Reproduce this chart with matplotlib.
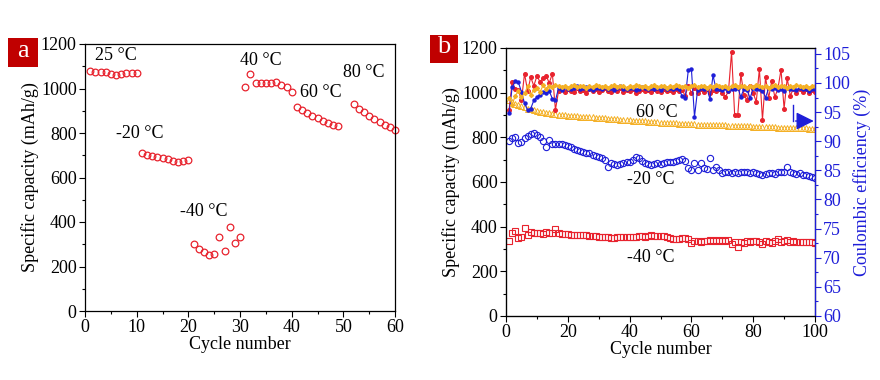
import numpy as np
import matplotlib
matplotlib.use('Agg')
import matplotlib.pyplot as plt
from matplotlib.ticker import MultipleLocator
from matplotlib.patches import Rectangle

plt.rcParams['font.family'] = ['Liberation Serif', 'DejaVu Serif']

# ---- panel a: rate test at different temperatures ----
cyc_25 = list(range(1, 11))
cap_25 = [1078, 1072, 1074, 1073, 1066, 1061, 1063, 1068, 1069, 1068]
cyc_m20 = list(range(11, 21))
cap_m20 = [711, 701, 698, 690, 686, 684, 676, 669, 676, 679]
cyc_m40 = list(range(21, 31))
cap_m40 = [301, 279, 265, 252, 256, 334, 271, 378, 307, 333]
cyc_40 = list(range(31, 41))
cap_40 = [1005, 1064, 1025, 1024, 1024, 1024, 1028, 1016, 1008, 986]
cyc_60 = list(range(41, 50))
cap_60 = [918, 902, 888, 876, 866, 856, 846, 836, 831]
cyc_80 = list(range(52, 61))
cap_80 = [930, 910, 895, 878, 864, 850, 838, 826, 813]

labels_a = ['25 \u00b0C', '-20 \u00b0C', '-40 \u00b0C', '40 \u00b0C', '60 \u00b0C', '80 \u00b0C']
label_pos_a = [(6, 1150), (10.5, 800), (23, 445), (34, 1124), (45.6, 980), (54, 1074)]

# ---- panel b: long cycling ----
cycles_b = list(range(1, 101))
cap_b_60 = [965, 958, 950, 944, 939, 934, 929, 925, 921, 918,
            915, 912, 910, 908, 906, 904, 902, 900, 899, 897,
            896, 895, 894, 893, 892, 891, 890, 889, 888, 887,
            886, 885, 883, 882, 881, 880, 879, 878, 877, 876,
            875, 874, 873, 872, 871, 870, 869, 868, 867, 866,
            865, 864, 863, 862, 862, 861, 860, 860, 859, 858,
            858, 857, 857, 856, 856, 855, 855, 854, 854, 853,
            853, 852, 852, 851, 851, 850, 850, 849, 849, 848,
            848, 847, 847, 846, 846, 845, 845, 844, 844, 843,
            843, 842, 842, 841, 841, 840, 840, 839, 839, 838]
cap_b_m20 = [785, 795, 800, 775, 780, 795, 806, 815, 821, 810,
             800, 785, 758, 788, 770, 772, 770, 768, 766, 760,
             755, 748, 743, 738, 736, 731, 728, 721, 718, 713,
             706, 699, 666, 684, 680, 676, 680, 684, 688, 691,
             700, 713, 706, 695, 684, 680, 676, 680, 684, 682,
             684, 688, 690, 691, 695, 698, 701, 694, 661, 654,
             684, 654, 684, 663, 660, 706, 654, 666, 655, 639,
             643, 646, 640, 644, 641, 645, 646, 643, 640, 644,
             642, 638, 631, 636, 640, 642, 638, 644, 646, 645,
             666, 645, 639, 636, 640, 631, 633, 628, 622, 617]
cap_b_m40 = [337, 370, 382, 348, 352, 393, 363, 375, 373, 370,
             373, 368, 375, 373, 370, 388, 370, 368, 366, 365,
             364, 363, 363, 362, 362, 361, 360, 358, 356, 355,
             354, 352, 352, 351, 351, 352, 352, 352, 352, 353,
             354, 355, 358, 356, 355, 360, 363, 360, 358, 358,
             356, 352, 348, 343, 345, 346, 348, 348, 345, 328,
             335, 337, 332, 338, 336, 340, 338, 340, 337, 342,
             336, 340, 322, 333, 308, 330, 325, 335, 330, 337,
             335, 332, 322, 337, 330, 325, 338, 343, 332, 335,
             340, 332, 335, 330, 333, 332, 330, 332, 330, 328]

ce_red = [95.4, 100.2, 99.0, 98.8, 97.0, 101.6, 98.6, 101.0, 99.5, 101.2,
          100.2, 100.8, 101.2, 100.0, 101.6, 95.4, 98.6, 98.9, 98.4, 99.0,
          98.7, 98.5, 99.1, 98.6, 98.8, 98.3, 99.0, 98.7, 98.9, 98.5,
          98.8, 99.2, 98.6, 98.4, 98.9, 98.7, 99.1, 98.5, 98.8, 98.6,
          98.9, 98.3, 98.7, 99.0, 98.6, 98.8, 98.4, 98.9, 98.7, 98.5,
          99.0, 98.6, 98.8, 98.4, 98.9, 98.6, 98.8, 97.8, 99.5, 98.3,
          99.2, 98.3, 98.9, 98.4, 99.0, 98.2, 98.8, 98.6, 99.0, 98.3,
          97.6, 98.6, 105.3, 94.5, 94.5, 101.5, 98.0, 97.0, 99.5, 98.2,
          96.8, 102.4, 93.7, 101.0, 97.4, 100.3, 97.6, 99.0, 102.3, 95.6,
          100.8, 97.8, 99.0, 98.2, 99.0, 98.4, 98.9, 98.3, 98.8, 98.4]
ce_blue = [94.8, 99.3, 100.3, 100.1, 98.5, 96.5, 95.3, 95.6, 97.0, 97.6,
           98.0, 98.4, 98.2, 98.6, 97.3, 97.0, 99.1, 98.8, 99.3, 99.0,
           98.9, 99.2, 99.4, 98.9, 99.1, 99.3, 99.0, 98.8, 99.2, 99.1,
           98.9, 99.3, 99.0, 99.2, 98.8, 99.1, 99.4, 99.0, 98.9, 99.2,
           99.1, 98.8, 99.0, 99.3, 99.1, 98.9, 99.2, 99.0, 99.1, 98.8,
           99.3, 99.0, 99.2, 98.9, 99.1, 99.0, 97.7, 97.4, 102.2, 102.4,
           94.2, 98.8, 99.1, 98.9, 99.2, 97.2, 101.3, 98.9, 99.0, 98.8,
           99.1, 98.7, 99.0, 98.9, 99.2, 97.6, 99.0, 98.8, 97.4, 99.1,
           98.9, 99.0, 98.7, 97.5, 99.1, 98.9, 99.2, 98.8, 99.0, 98.7,
           99.1, 98.9, 99.0, 98.8, 99.1, 98.9, 99.0, 98.7, 99.0, 98.9]
ce_orange = [97.5, 96.3, 97.8, 98.6, 97.6, 98.2, 99.4, 98.0, 98.8, 99.2,
             98.4, 99.6, 98.9, 99.5, 99.3, 99.6, 99.4, 99.3, 99.5, 99.2,
             99.4, 99.6, 99.3, 99.5, 99.4, 99.2, 99.5, 99.3, 99.6, 99.4,
             99.3, 99.5, 99.2, 99.4, 99.6, 99.3, 99.5, 99.4, 99.2, 99.5,
             99.3, 99.6, 99.4, 99.3, 99.5, 99.2, 99.4, 99.6, 99.3, 99.5,
             99.4, 99.2, 99.5, 99.3, 99.6, 99.4, 99.3, 99.5, 99.2, 99.4,
             99.6, 99.3, 99.5, 99.4, 99.2, 99.5, 99.3, 99.6, 99.4, 99.3,
             99.5, 99.2, 99.4, 99.6, 99.3, 99.5, 99.4, 99.2, 99.5, 99.3,
             99.6, 99.4, 99.3, 99.5, 99.2, 99.4, 99.6, 99.3, 99.5, 99.4,
             99.2, 99.5, 99.3, 99.6, 99.4, 99.3, 99.5, 99.2, 99.4, 99.5]

labels_b = ['60 \u00b0C', '-20 \u00b0C', '-40 \u00b0C']
label_pos_b = [(48.8, 913), (47, 609), (47, 264)]

RED = '#E8232E'
BLUE = '#1E1ED8'
ORANGE = '#F4B026'
FS = 13

fig = plt.figure(figsize=(8.8, 3.8), dpi=100)
ax1 = fig.add_axes([85/880, 69/380, 310/880, 267/380])
ax2 = fig.add_axes([506/880, 64/380, 309/880, 268/380])


def style_axis(ax):
    ax.tick_params(which='both', direction='out', labelsize=FS, top=False, right=False, pad=2)
    ax.tick_params(which='major', length=4, width=0.8)
    ax.tick_params(which='minor', length=2.5, width=0.8)
    for sp in ax.spines.values():
        sp.set_linewidth(0.9)


# panel a
for cx, cy in [(cyc_25, cap_25), (cyc_m20, cap_m20), (cyc_m40, cap_m40),
               (cyc_40, cap_40), (cyc_60, cap_60), (cyc_80, cap_80)]:
    ax1.plot(cx, cy, 'o', ms=4.8, mfc='none', mec=RED, mew=0.9, clip_on=False)
for txt, (x, y) in zip(labels_a, label_pos_a):
    ax1.text(x, y, txt, fontsize=FS, ha='center', va='center')
ax1.set_xlim(0, 60)
ax1.set_ylim(0, 1200)
ax1.xaxis.set_major_locator(MultipleLocator(10))
ax1.xaxis.set_minor_locator(MultipleLocator(5))
ax1.yaxis.set_major_locator(MultipleLocator(200))
ax1.yaxis.set_minor_locator(MultipleLocator(100))
style_axis(ax1)
ax1.set_xlabel('Cycle number', fontsize=FS, labelpad=0)
ax1.set_ylabel('Specific capacity (mAh/g)', fontsize=FS, labelpad=1)

# panel b
ax2.plot(cycles_b, cap_b_60, '^', ms=3.8, mfc='none', mec=ORANGE, mew=0.7)
ax2.plot(cycles_b, cap_b_m20, 'o', ms=4.5, mfc='none', mec=BLUE, mew=0.8)
ax2.plot(cycles_b, cap_b_m40, 's', ms=4.2, mfc='none', mec=RED, mew=0.8)
for txt, (x, y) in zip(labels_b, label_pos_b):
    ax2.text(x, y, txt, fontsize=FS, ha='center', va='center')
ax2.set_xlim(0, 100)
ax2.set_ylim(0, 1200)
ax2.xaxis.set_major_locator(MultipleLocator(20))
ax2.xaxis.set_minor_locator(MultipleLocator(10))
ax2.yaxis.set_major_locator(MultipleLocator(200))
ax2.yaxis.set_minor_locator(MultipleLocator(100))
style_axis(ax2)
ax2.set_xlabel('Cycle number', fontsize=FS, labelpad=0)
ax2.set_ylabel('Specific capacity (mAh/g)', fontsize=FS, labelpad=1)

ax3 = ax2.twinx()
ax3.plot(cycles_b, ce_red, '-o', color=RED, lw=0.8, ms=2.6)
ax3.plot(cycles_b, ce_blue, '-o', color=BLUE, lw=0.8, ms=2.2)
ax3.plot(cycles_b, ce_orange, '-D', color=ORANGE, lw=0.8, ms=2.0)
ax3.set_ylim(60, 106)
ax3.yaxis.set_major_locator(MultipleLocator(5))
ax3.yaxis.set_minor_locator(MultipleLocator(2.5))
ax3.tick_params(which='both', direction='out', colors=BLUE, labelsize=FS, pad=2)
ax3.tick_params(which='major', length=4, width=0.8)
ax3.tick_params(which='minor', length=2.5, width=0.8)
ax3.spines['right'].set_color(BLUE)
ax3.spines['right'].set_linewidth(0.9)
ax3.set_ylabel('Coulombic efficiency (%)', fontsize=FS, color=BLUE, labelpad=2)

# arrow pointing to the efficiency axis
ax2.plot([93, 93], [945, 873], color=BLUE, lw=1.0)
ax2.annotate('', xy=(100.5, 873), xytext=(92.8, 873),
             arrowprops=dict(arrowstyle='-|>,head_length=0.9,head_width=0.45', color=BLUE,
                             lw=1.0, mutation_scale=12),
             annotation_clip=False)

# panel tags
for (x0, y0, w, h), tag in [((8, 38, 30, 29), 'a'), ((430, 35, 28, 28), 'b')]:
    fig.patches.append(Rectangle((x0/880, 1 - (y0 + h)/380), w/880, h/380,
                                 transform=fig.transFigure, fc='#C00000', ec='none'))
    fig.text((x0 + w/2)/880, 1 - (y0 + h/2)/380 + 0.004, tag, fontsize=19, color='white',
             ha='center', va='center')

fig.savefig('out.png', dpi=100)
